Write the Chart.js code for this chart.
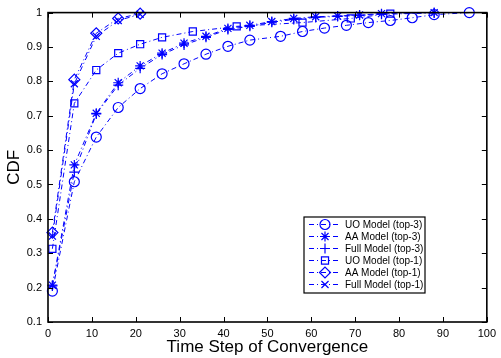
<!DOCTYPE html>
<html>
<head>
<meta charset="utf-8">
<script src="https://cdn.jsdelivr.net/npm/chart.js@4"></script>
<style>
  html, body { margin: 0; padding: 0; background: #ffffff; }
  #wrap { width: 501px; height: 358px; position: relative; }
</style>
</head>
<body>
<div id="wrap"><canvas id="cdfChart"></canvas></div>
<script>
// series values (x = time step, y = CDF)
const uoTop3X = [1, 6, 11, 16, 21, 26, 31, 36, 41, 46, 53, 58, 63, 68, 73, 78, 83, 88, 96];
const uoTop3Y = [0.19, 0.508, 0.638, 0.724, 0.779, 0.822, 0.851, 0.879, 0.902, 0.92, 0.931, 0.945, 0.955, 0.963, 0.971, 0.977, 0.985, 0.994, 1.0];

const aaTop3X = [1, 6, 11, 16, 21, 26, 31, 36, 41, 46, 51, 56, 61, 66, 71, 76, 88];
const aaTop3Y = [0.207, 0.557, 0.707, 0.796, 0.845, 0.882, 0.911, 0.931, 0.954, 0.963, 0.974, 0.983, 0.988, 0.99, 0.993, 0.997, 1.0];

const fullTop3X = [1, 6, 11, 16, 21, 26, 31, 36, 41, 46, 51, 56, 61, 66, 71, 76, 88];
const fullTop3Y = [0.205, 0.536, 0.705, 0.789, 0.838, 0.878, 0.906, 0.928, 0.951, 0.96, 0.972, 0.98, 0.986, 0.989, 0.992, 0.995, 0.999];

const uoTop1X = [1, 6, 11, 16, 21, 26, 33, 43, 58, 69, 78];
const uoTop1Y = [0.313, 0.736, 0.833, 0.882, 0.908, 0.928, 0.945, 0.96, 0.971, 0.983, 0.997];

const aaTop1X = [1, 6, 11, 16, 21];
const aaTop1Y = [0.36, 0.805, 0.94, 0.983, 0.997];

const fullTop1X = [1, 6, 11, 16, 21];
const fullTop1Y = [0.35, 0.793, 0.931, 0.977, 0.995];

const seriesLabels = [
  "UO Model (top-3)",
  "AA Model (top-3)",
  "Full Model (top-3)",
  "UO Model (top-1)",
  "AA Model (top-1)",
  "Full Model (top-1)",
];
const xTicks = [0, 10, 20, 30, 40, 50, 60, 70, 80, 90, 100];
const yTicks = [0.1, 0.2, 0.3, 0.4, 0.5, 0.6, 0.7, 0.8, 0.9, 1];

const BLUE = "#0000ff";
const DASH = [5, 3, 1, 3];

function makeSeries(label, xs, ys, style, radius) {
  return {
    label: label,
    data: xs.map((x, i) => ({ x: x, y: ys[i] })),
    borderColor: BLUE,
    backgroundColor: "rgba(0,0,0,0)",
    borderWidth: 1,
    borderDash: DASH,
    pointStyle: style,
    pointRadius: radius,
    pointBorderColor: BLUE,
    pointBackgroundColor: "rgba(0,0,0,0)",
    pointBorderWidth: 1.2,
    tension: 0,
    clip: false,
  };
}

const datasets = [
  makeSeries(seriesLabels[0], uoTop3X, uoTop3Y, "circle", 5),
  makeSeries(seriesLabels[1], aaTop3X, aaTop3Y, "star", 5),
  makeSeries(seriesLabels[2], fullTop3X, fullTop3Y, "cross", 5),
  makeSeries(seriesLabels[3], uoTop1X, uoTop1Y, "rect", 5),
  makeSeries(seriesLabels[4], aaTop1X, aaTop1Y, "rectRot", 5.5),
  makeSeries(seriesLabels[5], fullTop1X, fullTop1Y, "crossRot", 5),
];

// MATLAB style frame with ticks pointing inward
const frameTicks = {
  id: "frameTicks",
  afterDraw(chart) {
    const ctx = chart.ctx;
    const a = chart.chartArea;
    const xs = chart.scales.x;
    const ys = chart.scales.y;
    const len = 5;
    ctx.save();
    ctx.strokeStyle = "#000000";
    ctx.lineWidth = 1;
    ctx.beginPath();
    xTicks.forEach((v) => {
      const px = Math.round(xs.getPixelForValue(v)) + 0.5;
      ctx.moveTo(px, a.bottom);
      ctx.lineTo(px, a.bottom - len);
      ctx.moveTo(px, a.top);
      ctx.lineTo(px, a.top + len);
    });
    yTicks.forEach((v) => {
      const py = Math.round(ys.getPixelForValue(v)) + 0.5;
      ctx.moveTo(a.left, py);
      ctx.lineTo(a.left + len, py);
      ctx.moveTo(a.right, py);
      ctx.lineTo(a.right - len, py);
    });
    ctx.stroke();
    ctx.lineWidth = 1.6;
    ctx.strokeRect(a.left, a.top, a.right - a.left, a.bottom - a.top);
    ctx.restore();
  },
};

// boxed legend inside the plot, lower right
const boxLegend = {
  id: "boxLegend",
  afterDraw(chart) {
    const ctx = chart.ctx;
    const left = 304, top = 217, w = 121, h = 76;
    ctx.save();
    ctx.fillStyle = "#ffffff";
    ctx.fillRect(left, top, w, h);
    ctx.strokeStyle = "#000000";
    ctx.lineWidth = 1.2;
    ctx.strokeRect(left, top, w, h);
    ctx.textBaseline = "middle";
    ctx.textAlign = "left";
    chart.data.datasets.forEach((ds, i) => {
      const y = top + 7.5 + i * 12;
      ctx.strokeStyle = BLUE;
      ctx.lineWidth = 1;
      ctx.setLineDash(DASH);
      ctx.beginPath();
      ctx.moveTo(309, y);
      ctx.lineTo(341, y);
      ctx.stroke();
      ctx.setLineDash([]);
      ctx.fillStyle = "rgba(0,0,0,0)";
      ctx.lineWidth = 1.2;
      Chart.helpers.drawPoint(ctx, {
        pointStyle: ds.pointStyle,
        radius: ds.pointRadius,
        rotation: 0,
        borderWidth: 1.2,
      }, 325, y);
      ctx.fillStyle = "#000000";
      ctx.font = "10px 'Liberation Sans', Arial, sans-serif";
      ctx.fillText(ds.label, 345, y + 0.5);
    });
    ctx.restore();
  },
};

new Chart(document.getElementById("cdfChart"), {
  type: "line",
  data: { datasets: datasets },
  plugins: [frameTicks, boxLegend],
  options: {
    responsive: true,
    maintainAspectRatio: false,
    animation: false,
    layout: { padding: { top: 9, right: 8, left: 0, bottom: 0 } },
    plugins: {
      legend: { display: false },
      tooltip: { enabled: false },
    },
    scales: {
      x: {
        type: "linear",
        min: 0,
        max: 100,
        afterFit: (scale) => { scale.height = 36; },
        afterBuildTicks: (scale) => { scale.ticks = xTicks.map((v) => ({ value: v })); },
        grid: { display: false, drawTicks: false },
        border: { display: false },
        ticks: {
          color: "#000000",
          padding: 5,
          maxRotation: 0,
          font: { family: "'Liberation Sans', Arial, sans-serif", size: 11 },
        },
        title: {
          display: true,
          text: "Time Step of Convergence",
          color: "#000000",
          padding: { top: 0, bottom: 0 },
          font: { family: "'Liberation Sans', Arial, sans-serif", size: 17 },
        },
      },
      y: {
        type: "linear",
        min: 0.1,
        max: 1,
        afterFit: (scale) => { scale.width = 48; },
        afterBuildTicks: (scale) => { scale.ticks = yTicks.map((v) => ({ value: v })); },
        grid: { display: false, drawTicks: false },
        border: { display: false },
        ticks: {
          color: "#000000",
          padding: 6,
          font: { family: "'Liberation Sans', Arial, sans-serif", size: 11 },
          callback: (v) => String(+v.toFixed(1)),
        },
        title: {
          display: true,
          text: "CDF",
          color: "#000000",
          padding: { top: 4, bottom: 0 },
          font: { family: "'Liberation Sans', Arial, sans-serif", size: 17 },
        },
      },
    },
  },
});
</script>
</body>
</html>
